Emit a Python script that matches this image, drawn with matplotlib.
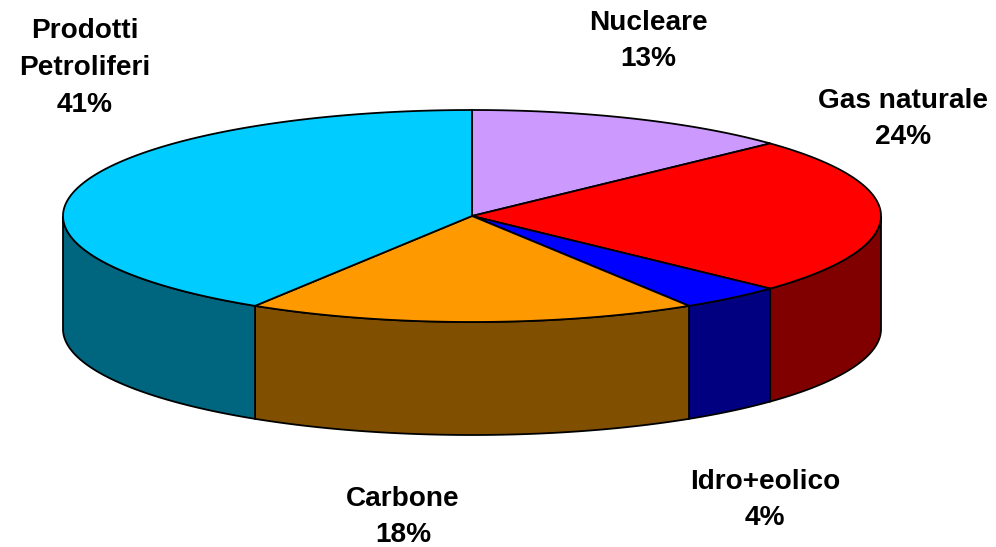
# -*- coding: utf-8 -*-
"""3D looking pie chart of energy sources, drawn as flat polygons."""

import numpy as np
import matplotlib
matplotlib.use("Agg")
import matplotlib.pyplot as plt

labels = ["Nucleare", "Gas naturale", "Idro+eolico", "Carbone", "Prodotti\nPetroliferi"]
values = [13, 24, 4.1, 17.8, 41.1]
top_colors = ["#CC99FF", "#FF0000", "#0000FF", "#FF9900", "#00CCFF"]
side_colors = ["#665080", "#800000", "#000080", "#805000", "#006680"]
label_pos = [(648, 41), (903, 119), (765, 500), (403, 517), (85, 68)]

CX, CY = 472, 216
RX, RY = 409, 106
DEPTH = 113


def ellipse(theta):
    """Angle is clockwise from the top, in radians."""
    return CX + RX * np.sin(theta), CY - RY * np.cos(theta)


plt.rcParams["font.family"] = ["Liberation Sans", "DejaVu Sans"]
fig = plt.figure(figsize=(9.96, 5.47), dpi=100)
ax = fig.add_axes([0, 0, 1, 1])
ax.set_xlim(0, 996)
ax.set_ylim(547, 0)
ax.axis("off")

edges = np.cumsum([0] + values) / sum(values) * 2 * np.pi

# side walls first, only the front half of the pie shows them
for i in range(len(values)):
    a0 = max(edges[i], np.pi / 2)
    a1 = min(edges[i + 1], 3 * np.pi / 2)
    if a1 <= a0:
        continue
    t = np.linspace(a0, a1, 200)
    x, y = ellipse(t)
    xs = np.concatenate([x, x[::-1]])
    ys = np.concatenate([y, y[::-1] + DEPTH])
    ax.fill(xs, ys, facecolor=side_colors[i], edgecolor="black", linewidth=1.3)

# top face
for i in range(len(values)):
    t = np.linspace(edges[i], edges[i + 1], 300)
    x, y = ellipse(t)
    xs = np.concatenate([[CX], x])
    ys = np.concatenate([[CY], y])
    ax.fill(xs, ys, facecolor=top_colors[i], edgecolor="black", linewidth=1.3)

for i in range(len(labels)):
    ax.text(label_pos[i][0], label_pos[i][1], f"{labels[i]}\n{values[i]:.0f}%", ha="center", va="center",
            fontsize=20.2, fontweight="bold", color="black", linespacing=1.53)

fig.savefig("out.png", dpi=100)
